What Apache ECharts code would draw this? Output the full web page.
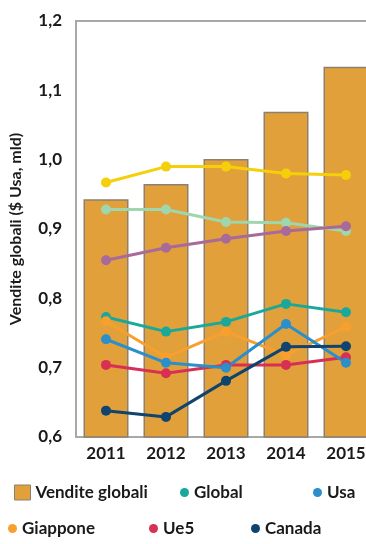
<!DOCTYPE html>
<html>
<head>
<meta charset="utf-8">
<script src="https://cdn.jsdelivr.net/npm/echarts@6/dist/echarts.min.js"></script>
<style>
  html, body { margin: 0; padding: 0; background: #fff; }
  #main { width: 366px; height: 544px; }
</style>
</head>
<body>
<div id="main"></div>
<script>
// dati
var anni = ['2011', '2012', '2013', '2014', '2015'];
var venditeGlobali = [0.943, 0.965, 1.001, 1.069, 1.134];
var serieGialla = [0.967, 0.990, 0.990, 0.980, 0.978];
var serieVerdeChiaro = [0.928, 0.928, 0.910, 0.909, 0.897];
var serieViola = [0.855, 0.873, 0.886, 0.897, 0.904];
var global = [0.773, 0.752, 0.766, 0.792, 0.780];
var usa = [0.741, 0.707, 0.700, 0.763, 0.707];
var giappone = [0.767, 0.715, 0.752, 0.718, 0.759];
var ue5 = [0.704, 0.692, 0.704, 0.704, 0.715];
var canada = [0.638, 0.629, 0.681, 0.730, 0.731];

var myChart = echarts.init(document.getElementById('main'));

var font = 'Lato, "DejaVu Sans", sans-serif';
var testo = { color: '#1a1a1a', fontFamily: font, fontWeight: 'bold', fontSize: 17 };

function linea(nome, dati, colore) {
    return {
        name: nome,
        type: 'line',
        data: dati,
        symbol: 'circle',
        symbolSize: 10,
        lineStyle: { width: 3, color: colore },
        itemStyle: { color: colore },
        z: 3
    };
}

// una legenda per voce, per piazzarle come nell'originale
function voce(nome, left, top, icona) {
    return {
        data: [nome],
        left: left,
        top: top,
        icon: icona,
        itemWidth: icona == 'rect' ? 16 : 9,
        itemHeight: icona == 'rect' ? 15 : 9,
        itemGap: 0,
        textStyle: testo,
        selectedMode: false,
        itemStyle: icona == 'rect' ? { borderColor: '#8c8070', borderWidth: 1 } : {}
    };
}

var option = {
    backgroundColor: '#fff',
    animation: false,
    grid: {
        left: 76,
        top: 21,
        width: 300,
        bottom: 107,
        outerBoundsMode: 'none',
        containLabel: false,
        show: true,
        borderColor: '#a8a8a8',
        borderWidth: 2
    },
    legend: [
        voce('Vendite globali', 9, 479, 'rect'),
        voce('Global', 175, 479, 'circle'),
        voce('Usa', 308, 479, 'circle'),
        voce('Giappone', 3, 515, 'circle'),
        voce('Ue5', 144, 515, 'circle'),
        voce('Canada', 246, 515, 'circle')
    ],
    xAxis: {
        type: 'category',
        data: anni,
        axisLine: { lineStyle: { color: '#a8a8a8', width: 2 } },
        axisTick: { show: false },
        axisLabel: Object.assign({ margin: 8 }, testo)
    },
    yAxis: {
        type: 'value',
        min: 0.6,
        max: 1.2,
        interval: 0.1,
        name: 'Vendite globali ($ Usa, mld)',
        nameLocation: 'middle',
        nameGap: 52,
        nameTextStyle: { color: '#1a1a1a', fontFamily: font, fontWeight: 'bold', fontSize: 16 },
        axisLine: { show: true, lineStyle: { color: '#a8a8a8', width: 2 } },
        axisTick: { show: false },
        splitLine: { show: false },
        axisLabel: Object.assign({
            margin: 14,
            formatter: function (v) { return v.toFixed(1).replace('.', ','); }
        }, testo)
    },
    series: [
        {
            name: 'Vendite globali',
            type: 'bar',
            data: venditeGlobali,
            barWidth: '75%',
            itemStyle: { color: '#e2a03a', borderColor: '#8c8070', borderWidth: 1.5 },
            z: 1
        },
        linea('Serie gialla', serieGialla, '#f5cf0a'),
        linea('Serie verde chiaro', serieVerdeChiaro, '#9fd6ad'),
        linea('Serie viola', serieViola, '#a8699b'),
        linea('Global', global, '#1aa89a'),
        linea('Giappone', giappone, '#f7a02e'),
        linea('Ue5', ue5, '#d82f55'),
        linea('Usa', usa, '#2a8fca'),
        linea('Canada', canada, '#0f446f')
    ]
};

myChart.setOption(option);
</script>
</body>
</html>
